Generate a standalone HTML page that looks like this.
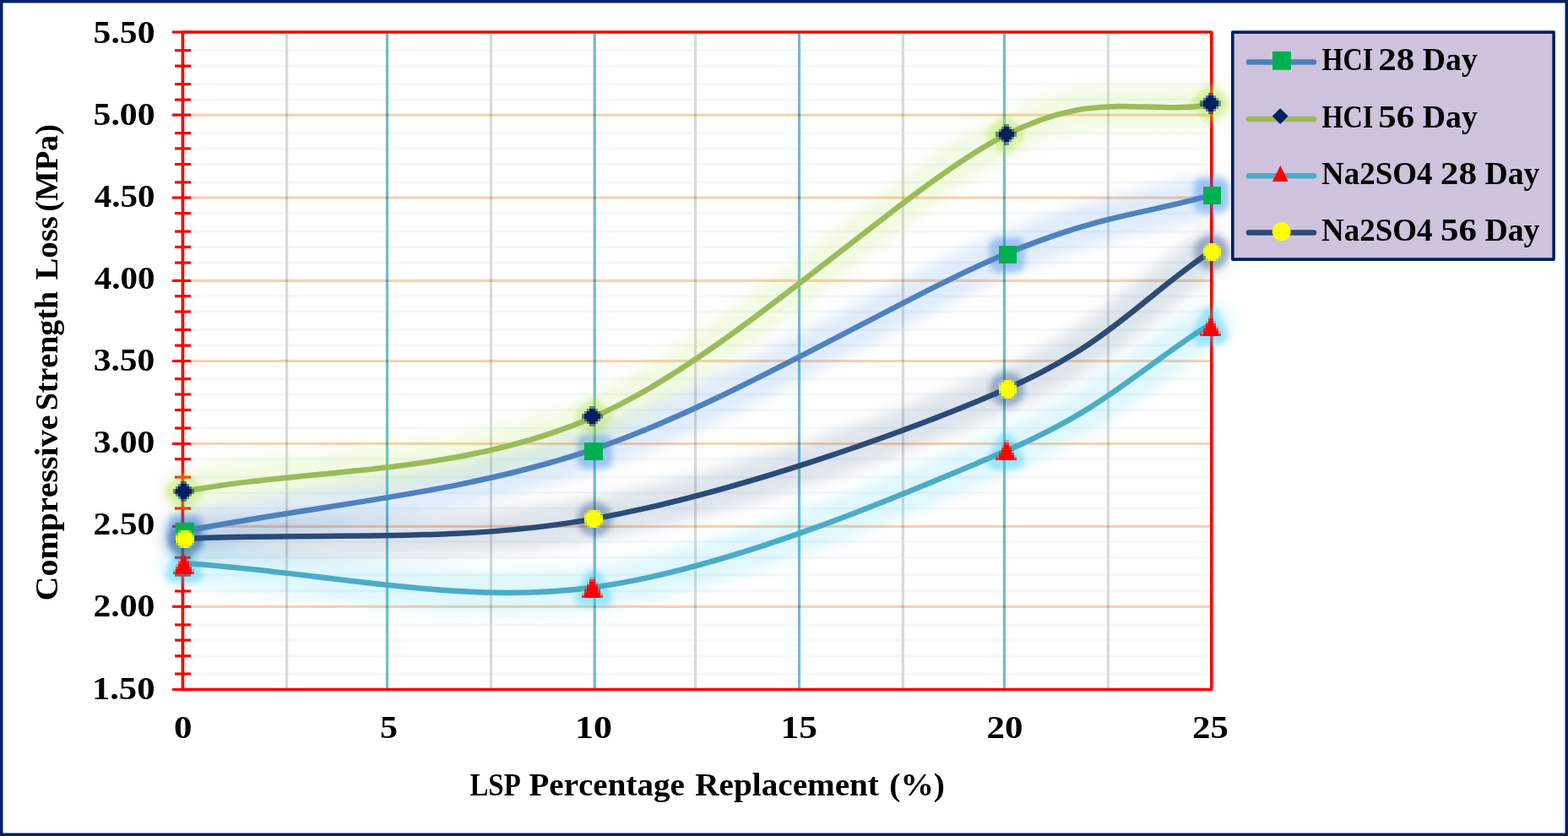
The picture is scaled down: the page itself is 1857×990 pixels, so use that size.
<!DOCTYPE html>
<html><head><meta charset="utf-8"><title>Compressive Strength Loss chart</title>
<style>
html,body{margin:0;padding:0;background:#fff;}
body{width:1857px;height:990px;overflow:hidden;}
svg{display:block;}
text{font-family:"Liberation Serif","DejaVu Serif",serif;font-weight:bold;fill:#000;font-kerning:none;}
</style></head><body>
<svg width="1857" height="990" viewBox="0 0 1857 990">
<defs>
<filter id="lglow" x="-10%" y="-20%" width="120%" height="140%"><feGaussianBlur stdDeviation="8"/></filter>
<filter id="mglow" x="-50%" y="-50%" width="200%" height="200%"><feGaussianBlur stdDeviation="3.5"/></filter>
</defs>
<rect x="0" y="0" width="1857" height="990" fill="#fff"/>

<g stroke="#F2F8FA" stroke-width="3" style="mix-blend-mode:multiply"><line x1="218" y1="59.7" x2="1433" y2="59.7"/><line x1="218" y1="78.1" x2="1433" y2="78.1"/><line x1="218" y1="99.7" x2="1433" y2="99.7"/><line x1="218" y1="118.1" x2="1433" y2="118.1"/><line x1="218" y1="157.7" x2="1433" y2="157.7"/><line x1="218" y1="175.9" x2="1433" y2="175.9"/><line x1="218" y1="194.6" x2="1433" y2="194.6"/><line x1="218" y1="215.9" x2="1433" y2="215.9"/><line x1="218" y1="252.6" x2="1433" y2="252.6"/><line x1="218" y1="274.1" x2="1433" y2="274.1"/><line x1="218" y1="292.5" x2="1433" y2="292.5"/><line x1="218" y1="311.1" x2="1433" y2="311.1"/><line x1="218" y1="350.7" x2="1433" y2="350.7"/><line x1="218" y1="369.1" x2="1433" y2="369.1"/><line x1="218" y1="390.5" x2="1433" y2="390.5"/><line x1="218" y1="409.1" x2="1433" y2="409.1"/><line x1="218" y1="448.7" x2="1433" y2="448.7"/><line x1="218" y1="467.0" x2="1433" y2="467.0"/><line x1="218" y1="485.5" x2="1433" y2="485.5"/><line x1="218" y1="507.0" x2="1433" y2="507.0"/><line x1="218" y1="543.7" x2="1433" y2="543.7"/><line x1="218" y1="565.1" x2="1433" y2="565.1"/><line x1="218" y1="583.5" x2="1433" y2="583.5"/><line x1="218" y1="602.0" x2="1433" y2="602.0"/><line x1="218" y1="641.5" x2="1433" y2="641.5"/><line x1="218" y1="660.3" x2="1433" y2="660.3"/><line x1="218" y1="681.1" x2="1433" y2="681.1"/><line x1="218" y1="700.0" x2="1433" y2="700.0"/><line x1="218" y1="739.9" x2="1433" y2="739.9"/><line x1="218" y1="758.1" x2="1433" y2="758.1"/><line x1="218" y1="776.8" x2="1433" y2="776.8"/><line x1="218" y1="798.0" x2="1433" y2="798.0"/></g>
<g stroke-width="3.2"><line x1="339.6" y1="40" x2="339.6" y2="815" stroke="#D9D9D9"/><line x1="458.5" y1="40" x2="458.5" y2="815" stroke="#6DBDD1"/><line x1="581.5" y1="40" x2="581.5" y2="815" stroke="#D9D9D9"/><line x1="704.2" y1="40" x2="704.2" y2="815" stroke="#6DBDD1"/><line x1="823.6" y1="40" x2="823.6" y2="815" stroke="#D9D9D9"/><line x1="946.5" y1="40" x2="946.5" y2="815" stroke="#6DBDD1"/><line x1="1069.5" y1="40" x2="1069.5" y2="815" stroke="#D9D9D9"/><line x1="1189.4" y1="40" x2="1189.4" y2="815" stroke="#6DBDD1"/><line x1="1312.5" y1="40" x2="1312.5" y2="815" stroke="#D9D9D9"/></g>
<g stroke="#FBD0AE" stroke-width="3.2" style="mix-blend-mode:multiply"><line x1="218" y1="136.1" x2="1433" y2="136.1"/><line x1="218" y1="234.1" x2="1433" y2="234.1"/><line x1="218" y1="332.4" x2="1433" y2="332.4"/><line x1="218" y1="427.5" x2="1433" y2="427.5"/><line x1="218" y1="525.5" x2="1433" y2="525.5"/><line x1="218" y1="623.3" x2="1433" y2="623.3"/><line x1="218" y1="718.3" x2="1433" y2="718.3"/></g>
<path d="M216.4,38.0 H1434.8 V816.5 H216.4 Z" fill="none" stroke="#FF0000" stroke-width="3.6" stroke-linejoin="round"/>
<g stroke="#FF0000" stroke-width="3.2"><line x1="204" y1="38.0" x2="226" y2="38.0"/><line x1="207" y1="59.7" x2="226" y2="59.7"/><line x1="207" y1="78.1" x2="226" y2="78.1"/><line x1="207" y1="99.7" x2="226" y2="99.7"/><line x1="207" y1="118.1" x2="226" y2="118.1"/><line x1="204" y1="136.1" x2="226" y2="136.1"/><line x1="207" y1="157.7" x2="226" y2="157.7"/><line x1="207" y1="175.9" x2="226" y2="175.9"/><line x1="207" y1="194.6" x2="226" y2="194.6"/><line x1="207" y1="215.9" x2="226" y2="215.9"/><line x1="204" y1="234.1" x2="226" y2="234.1"/><line x1="207" y1="252.6" x2="226" y2="252.6"/><line x1="207" y1="274.1" x2="226" y2="274.1"/><line x1="207" y1="292.5" x2="226" y2="292.5"/><line x1="207" y1="311.1" x2="226" y2="311.1"/><line x1="204" y1="332.4" x2="226" y2="332.4"/><line x1="207" y1="350.7" x2="226" y2="350.7"/><line x1="207" y1="369.1" x2="226" y2="369.1"/><line x1="207" y1="390.5" x2="226" y2="390.5"/><line x1="207" y1="409.1" x2="226" y2="409.1"/><line x1="204" y1="427.5" x2="226" y2="427.5"/><line x1="207" y1="448.7" x2="226" y2="448.7"/><line x1="207" y1="467.0" x2="226" y2="467.0"/><line x1="207" y1="485.5" x2="226" y2="485.5"/><line x1="207" y1="507.0" x2="226" y2="507.0"/><line x1="204" y1="525.5" x2="226" y2="525.5"/><line x1="207" y1="543.7" x2="226" y2="543.7"/><line x1="207" y1="565.1" x2="226" y2="565.1"/><line x1="207" y1="583.5" x2="226" y2="583.5"/><line x1="207" y1="602.0" x2="226" y2="602.0"/><line x1="204" y1="623.3" x2="226" y2="623.3"/><line x1="207" y1="641.5" x2="226" y2="641.5"/><line x1="207" y1="660.3" x2="226" y2="660.3"/><line x1="207" y1="681.1" x2="226" y2="681.1"/><line x1="207" y1="700.0" x2="226" y2="700.0"/><line x1="204" y1="718.3" x2="226" y2="718.3"/><line x1="207" y1="739.9" x2="226" y2="739.9"/><line x1="207" y1="758.1" x2="226" y2="758.1"/><line x1="207" y1="776.8" x2="226" y2="776.8"/><line x1="207" y1="798.0" x2="226" y2="798.0"/><line x1="204" y1="816.5" x2="226" y2="816.5"/></g>
<path d="M217.0,629.5 C379.2,597.0 541.2,586.7 703.5,531.9 C865.8,477.1 1068.8,351.0 1190.5,300.9 C1307.6,252.7 1352.8,254.4 1434.0,231.2" fill="none" stroke="#267DE6" stroke-width="50" stroke-linecap="round" stroke-linejoin="round" opacity="0.14" filter="url(#lglow)"/><g opacity="0.36" filter="url(#mglow)"><rect x="208.8" y="619.0" width="21.3" height="21.3" fill="#267DE6" stroke="#267DE6" stroke-width="20" stroke-linejoin="round"/><rect x="693.6" y="524.0" width="21.3" height="21.3" fill="#267DE6" stroke="#267DE6" stroke-width="20" stroke-linejoin="round"/><rect x="1181.8" y="291.1" width="21.3" height="21.3" fill="#267DE6" stroke="#267DE6" stroke-width="20" stroke-linejoin="round"/><rect x="1423.9" y="220.4" width="21.3" height="21.3" fill="#267DE6" stroke="#267DE6" stroke-width="20" stroke-linejoin="round"/></g><path d="M217.0,582.0 C379.2,552.6 541.2,564.0 703.5,493.7 C865.8,423.4 1068.8,221.8 1190.5,160.2 C1300.3,104.7 1352.8,136.3 1434.0,124.3" fill="none" stroke="#A8E034" stroke-width="50" stroke-linecap="round" stroke-linejoin="round" opacity="0.14" filter="url(#lglow)"/><g opacity="0.36" filter="url(#mglow)"><polygon points="217.8,570.2 229.8,582.2 217.8,594.2 205.8,582.2" fill="#A8E034" stroke="#A8E034" stroke-width="20" stroke-linejoin="round"/><polygon points="702.7,481.8 714.7,493.8 702.7,505.8 690.7,493.8" fill="#A8E034" stroke="#A8E034" stroke-width="20" stroke-linejoin="round"/><polygon points="1190.6,147.6 1202.6,159.6 1190.6,171.6 1178.6,159.6" fill="#A8E034" stroke="#A8E034" stroke-width="20" stroke-linejoin="round"/><polygon points="1433.1,110.7 1445.1,122.7 1433.1,134.7 1421.1,122.7" fill="#A8E034" stroke="#A8E034" stroke-width="20" stroke-linejoin="round"/></g><path d="M217.0,667.0 C379.2,676.5 541.2,717.6 703.5,695.5 C865.8,673.4 1068.8,586.4 1190.5,534.4 C1312.2,482.4 1352.8,433.8 1434.0,383.5" fill="none" stroke="#1DC7F4" stroke-width="50" stroke-linecap="round" stroke-linejoin="round" opacity="0.14" filter="url(#lglow)"/><g opacity="0.36" filter="url(#mglow)"><polygon points="217.8,657.2 230.1,680.8 205.6,680.8" fill="#1DC7F4" stroke="#1DC7F4" stroke-width="20" stroke-linejoin="round"/><polygon points="702.9,684.5 715.1,708.0 690.6,708.0" fill="#1DC7F4" stroke="#1DC7F4" stroke-width="20" stroke-linejoin="round"/><polygon points="1191.3,522.8 1203.5,546.2 1179.0,546.2" fill="#1DC7F4" stroke="#1DC7F4" stroke-width="20" stroke-linejoin="round"/><polygon points="1433.0,374.4 1445.2,397.9 1420.8,397.9" fill="#1DC7F4" stroke="#1DC7F4" stroke-width="20" stroke-linejoin="round"/></g><path d="M217.0,638.0 C379.2,630.1 541.2,643.9 703.5,614.4 C865.8,584.9 1068.8,514.0 1190.5,461.2 C1312.2,408.4 1352.8,352.3 1434.0,297.8" fill="none" stroke="#1F497D" stroke-width="50" stroke-linecap="round" stroke-linejoin="round" opacity="0.14" filter="url(#lglow)"/><g opacity="0.36" filter="url(#mglow)"><circle cx="219.5" cy="638.9" r="10.7" fill="#1F497D" stroke="#1F497D" stroke-width="20" stroke-linejoin="round"/><circle cx="704.3" cy="614.6" r="10.7" fill="#1F497D" stroke="#1F497D" stroke-width="20" stroke-linejoin="round"/><circle cx="1192.7" cy="460.9" r="10.7" fill="#1F497D" stroke="#1F497D" stroke-width="20" stroke-linejoin="round"/><circle cx="1434.7" cy="298.6" r="10.7" fill="#1F497D" stroke="#1F497D" stroke-width="20" stroke-linejoin="round"/></g>
<path d="M217.0,629.5 C379.2,597.0 541.2,586.7 703.5,531.9 C865.8,477.1 1068.8,351.0 1190.5,300.9 C1307.6,252.7 1352.8,254.4 1434.0,231.2" fill="none" stroke="#4F81BD" stroke-width="6.5" stroke-linecap="round" stroke-linejoin="round"/>
<path d="M217.0,582.0 C379.2,552.6 541.2,564.0 703.5,493.7 C865.8,423.4 1068.8,221.8 1190.5,160.2 C1300.3,104.7 1352.8,136.3 1434.0,124.3" fill="none" stroke="#9BBB59" stroke-width="6.5" stroke-linecap="round" stroke-linejoin="round"/>
<path d="M217.0,667.0 C379.2,676.5 541.2,717.6 703.5,695.5 C865.8,673.4 1068.8,586.4 1190.5,534.4 C1312.2,482.4 1352.8,433.8 1434.0,383.5" fill="none" stroke="#4BACC6" stroke-width="6.5" stroke-linecap="round" stroke-linejoin="round"/>
<path d="M217.0,638.0 C379.2,630.1 541.2,643.9 703.5,614.4 C865.8,584.9 1068.8,514.0 1190.5,461.2 C1312.2,408.4 1352.8,352.3 1434.0,297.8" fill="none" stroke="#2B4B77" stroke-width="6.5" stroke-linecap="round" stroke-linejoin="round"/>
<g shape-rendering="crispEdges"><path d="M208.32,618.83h3.06v3.06h-3.06zM211.38,618.83h3.06v3.06h-3.06zM214.44,618.83h3.06v3.06h-3.06zM217.51,618.83h3.06v3.06h-3.06zM220.57,618.83h3.06v3.06h-3.06zM223.64,618.83h3.06v3.06h-3.06zM226.70,618.83h3.06v3.06h-3.06zM208.32,621.89h3.06v3.06h-3.06zM211.38,621.89h3.06v3.06h-3.06zM214.44,621.89h3.06v3.06h-3.06zM217.51,621.89h3.06v3.06h-3.06zM220.57,621.89h3.06v3.06h-3.06zM223.64,621.89h3.06v3.06h-3.06zM226.70,621.89h3.06v3.06h-3.06zM208.32,624.95h3.06v3.06h-3.06zM211.38,624.95h3.06v3.06h-3.06zM214.44,624.95h3.06v3.06h-3.06zM217.51,624.95h3.06v3.06h-3.06zM220.57,624.95h3.06v3.06h-3.06zM223.64,624.95h3.06v3.06h-3.06zM226.70,624.95h3.06v3.06h-3.06zM208.32,628.02h3.06v3.06h-3.06zM211.38,628.02h3.06v3.06h-3.06zM214.44,628.02h3.06v3.06h-3.06zM217.51,628.02h3.06v3.06h-3.06zM220.57,628.02h3.06v3.06h-3.06zM223.64,628.02h3.06v3.06h-3.06zM226.70,628.02h3.06v3.06h-3.06zM208.32,631.08h3.06v3.06h-3.06zM211.38,631.08h3.06v3.06h-3.06zM214.44,631.08h3.06v3.06h-3.06zM217.51,631.08h3.06v3.06h-3.06zM220.57,631.08h3.06v3.06h-3.06zM223.64,631.08h3.06v3.06h-3.06zM226.70,631.08h3.06v3.06h-3.06zM208.32,634.14h3.06v3.06h-3.06zM211.38,634.14h3.06v3.06h-3.06zM214.44,634.14h3.06v3.06h-3.06zM217.51,634.14h3.06v3.06h-3.06zM220.57,634.14h3.06v3.06h-3.06zM223.64,634.14h3.06v3.06h-3.06zM226.70,634.14h3.06v3.06h-3.06zM208.32,637.21h3.06v3.06h-3.06zM211.38,637.21h3.06v3.06h-3.06zM214.44,637.21h3.06v3.06h-3.06zM217.51,637.21h3.06v3.06h-3.06zM220.57,637.21h3.06v3.06h-3.06zM223.64,637.21h3.06v3.06h-3.06zM226.70,637.21h3.06v3.06h-3.06z" fill="#00B050"/></g><g shape-rendering="crispEdges"><path d="M692.35,523.86h3.06v3.06h-3.06zM695.41,523.86h3.06v3.06h-3.06zM698.48,523.86h3.06v3.06h-3.06zM701.54,523.86h3.06v3.06h-3.06zM704.61,523.86h3.06v3.06h-3.06zM707.67,523.86h3.06v3.06h-3.06zM710.73,523.86h3.06v3.06h-3.06zM692.35,526.92h3.06v3.06h-3.06zM695.41,526.92h3.06v3.06h-3.06zM698.48,526.92h3.06v3.06h-3.06zM701.54,526.92h3.06v3.06h-3.06zM704.61,526.92h3.06v3.06h-3.06zM707.67,526.92h3.06v3.06h-3.06zM710.73,526.92h3.06v3.06h-3.06zM692.35,529.99h3.06v3.06h-3.06zM695.41,529.99h3.06v3.06h-3.06zM698.48,529.99h3.06v3.06h-3.06zM701.54,529.99h3.06v3.06h-3.06zM704.61,529.99h3.06v3.06h-3.06zM707.67,529.99h3.06v3.06h-3.06zM710.73,529.99h3.06v3.06h-3.06zM692.35,533.05h3.06v3.06h-3.06zM695.41,533.05h3.06v3.06h-3.06zM698.48,533.05h3.06v3.06h-3.06zM701.54,533.05h3.06v3.06h-3.06zM704.61,533.05h3.06v3.06h-3.06zM707.67,533.05h3.06v3.06h-3.06zM710.73,533.05h3.06v3.06h-3.06zM692.35,536.11h3.06v3.06h-3.06zM695.41,536.11h3.06v3.06h-3.06zM698.48,536.11h3.06v3.06h-3.06zM701.54,536.11h3.06v3.06h-3.06zM704.61,536.11h3.06v3.06h-3.06zM707.67,536.11h3.06v3.06h-3.06zM710.73,536.11h3.06v3.06h-3.06zM692.35,539.18h3.06v3.06h-3.06zM695.41,539.18h3.06v3.06h-3.06zM698.48,539.18h3.06v3.06h-3.06zM701.54,539.18h3.06v3.06h-3.06zM704.61,539.18h3.06v3.06h-3.06zM707.67,539.18h3.06v3.06h-3.06zM710.73,539.18h3.06v3.06h-3.06zM692.35,542.24h3.06v3.06h-3.06zM695.41,542.24h3.06v3.06h-3.06zM698.48,542.24h3.06v3.06h-3.06zM701.54,542.24h3.06v3.06h-3.06zM704.61,542.24h3.06v3.06h-3.06zM707.67,542.24h3.06v3.06h-3.06zM710.73,542.24h3.06v3.06h-3.06z" fill="#00B050"/></g><g shape-rendering="crispEdges"><path d="M1182.51,291.03h3.06v3.06h-3.06zM1185.57,291.03h3.06v3.06h-3.06zM1188.64,291.03h3.06v3.06h-3.06zM1191.70,291.03h3.06v3.06h-3.06zM1194.76,291.03h3.06v3.06h-3.06zM1197.83,291.03h3.06v3.06h-3.06zM1200.89,291.03h3.06v3.06h-3.06zM1182.51,294.10h3.06v3.06h-3.06zM1185.57,294.10h3.06v3.06h-3.06zM1188.64,294.10h3.06v3.06h-3.06zM1191.70,294.10h3.06v3.06h-3.06zM1194.76,294.10h3.06v3.06h-3.06zM1197.83,294.10h3.06v3.06h-3.06zM1200.89,294.10h3.06v3.06h-3.06zM1182.51,297.16h3.06v3.06h-3.06zM1185.57,297.16h3.06v3.06h-3.06zM1188.64,297.16h3.06v3.06h-3.06zM1191.70,297.16h3.06v3.06h-3.06zM1194.76,297.16h3.06v3.06h-3.06zM1197.83,297.16h3.06v3.06h-3.06zM1200.89,297.16h3.06v3.06h-3.06zM1182.51,300.22h3.06v3.06h-3.06zM1185.57,300.22h3.06v3.06h-3.06zM1188.64,300.22h3.06v3.06h-3.06zM1191.70,300.22h3.06v3.06h-3.06zM1194.76,300.22h3.06v3.06h-3.06zM1197.83,300.22h3.06v3.06h-3.06zM1200.89,300.22h3.06v3.06h-3.06zM1182.51,303.29h3.06v3.06h-3.06zM1185.57,303.29h3.06v3.06h-3.06zM1188.64,303.29h3.06v3.06h-3.06zM1191.70,303.29h3.06v3.06h-3.06zM1194.76,303.29h3.06v3.06h-3.06zM1197.83,303.29h3.06v3.06h-3.06zM1200.89,303.29h3.06v3.06h-3.06zM1182.51,306.35h3.06v3.06h-3.06zM1185.57,306.35h3.06v3.06h-3.06zM1188.64,306.35h3.06v3.06h-3.06zM1191.70,306.35h3.06v3.06h-3.06zM1194.76,306.35h3.06v3.06h-3.06zM1197.83,306.35h3.06v3.06h-3.06zM1200.89,306.35h3.06v3.06h-3.06zM1182.51,309.41h3.06v3.06h-3.06zM1185.57,309.41h3.06v3.06h-3.06zM1188.64,309.41h3.06v3.06h-3.06zM1191.70,309.41h3.06v3.06h-3.06zM1194.76,309.41h3.06v3.06h-3.06zM1197.83,309.41h3.06v3.06h-3.06zM1200.89,309.41h3.06v3.06h-3.06z" fill="#00B050"/></g><g shape-rendering="crispEdges"><path d="M1424.53,220.57h3.06v3.06h-3.06zM1427.59,220.57h3.06v3.06h-3.06zM1430.65,220.57h3.06v3.06h-3.06zM1433.72,220.57h3.06v3.06h-3.06zM1436.78,220.57h3.06v3.06h-3.06zM1439.85,220.57h3.06v3.06h-3.06zM1442.91,220.57h3.06v3.06h-3.06zM1424.53,223.64h3.06v3.06h-3.06zM1427.59,223.64h3.06v3.06h-3.06zM1430.65,223.64h3.06v3.06h-3.06zM1433.72,223.64h3.06v3.06h-3.06zM1436.78,223.64h3.06v3.06h-3.06zM1439.85,223.64h3.06v3.06h-3.06zM1442.91,223.64h3.06v3.06h-3.06zM1424.53,226.70h3.06v3.06h-3.06zM1427.59,226.70h3.06v3.06h-3.06zM1430.65,226.70h3.06v3.06h-3.06zM1433.72,226.70h3.06v3.06h-3.06zM1436.78,226.70h3.06v3.06h-3.06zM1439.85,226.70h3.06v3.06h-3.06zM1442.91,226.70h3.06v3.06h-3.06zM1424.53,229.76h3.06v3.06h-3.06zM1427.59,229.76h3.06v3.06h-3.06zM1430.65,229.76h3.06v3.06h-3.06zM1433.72,229.76h3.06v3.06h-3.06zM1436.78,229.76h3.06v3.06h-3.06zM1439.85,229.76h3.06v3.06h-3.06zM1442.91,229.76h3.06v3.06h-3.06zM1424.53,232.83h3.06v3.06h-3.06zM1427.59,232.83h3.06v3.06h-3.06zM1430.65,232.83h3.06v3.06h-3.06zM1433.72,232.83h3.06v3.06h-3.06zM1436.78,232.83h3.06v3.06h-3.06zM1439.85,232.83h3.06v3.06h-3.06zM1442.91,232.83h3.06v3.06h-3.06zM1424.53,235.89h3.06v3.06h-3.06zM1427.59,235.89h3.06v3.06h-3.06zM1430.65,235.89h3.06v3.06h-3.06zM1433.72,235.89h3.06v3.06h-3.06zM1436.78,235.89h3.06v3.06h-3.06zM1439.85,235.89h3.06v3.06h-3.06zM1442.91,235.89h3.06v3.06h-3.06zM1424.53,238.95h3.06v3.06h-3.06zM1427.59,238.95h3.06v3.06h-3.06zM1430.65,238.95h3.06v3.06h-3.06zM1433.72,238.95h3.06v3.06h-3.06zM1436.78,238.95h3.06v3.06h-3.06zM1439.85,238.95h3.06v3.06h-3.06zM1442.91,238.95h3.06v3.06h-3.06z" fill="#00B050"/></g>
<g shape-rendering="crispEdges"><path d="M214.44,572.87h3.06v3.06h-3.06zM217.51,572.87h3.06v3.06h-3.06zM211.38,575.94h3.06v3.06h-3.06zM214.44,575.94h3.06v3.06h-3.06zM217.51,575.94h3.06v3.06h-3.06zM220.57,575.94h3.06v3.06h-3.06zM208.32,579.00h3.06v3.06h-3.06zM211.38,579.00h3.06v3.06h-3.06zM214.44,579.00h3.06v3.06h-3.06zM217.51,579.00h3.06v3.06h-3.06zM220.57,579.00h3.06v3.06h-3.06zM223.64,579.00h3.06v3.06h-3.06zM208.32,582.06h3.06v3.06h-3.06zM211.38,582.06h3.06v3.06h-3.06zM214.44,582.06h3.06v3.06h-3.06zM217.51,582.06h3.06v3.06h-3.06zM220.57,582.06h3.06v3.06h-3.06zM223.64,582.06h3.06v3.06h-3.06zM211.38,585.13h3.06v3.06h-3.06zM214.44,585.13h3.06v3.06h-3.06zM217.51,585.13h3.06v3.06h-3.06zM220.57,585.13h3.06v3.06h-3.06zM214.44,588.19h3.06v3.06h-3.06zM217.51,588.19h3.06v3.06h-3.06z" fill="#002060"/><rect x="214.44" y="569.81" width="3.06" height="3.06" fill="#002060" fill-opacity="0.53"/><rect x="217.51" y="569.81" width="3.06" height="3.06" fill="#002060" fill-opacity="0.55"/><rect x="211.38" y="572.87" width="3.06" height="3.06" fill="#002060" fill-opacity="0.53"/><rect x="220.57" y="572.87" width="3.06" height="3.06" fill="#002060" fill-opacity="0.55"/><rect x="208.32" y="575.94" width="3.06" height="3.06" fill="#002060" fill-opacity="0.53"/><rect x="223.64" y="575.94" width="3.06" height="3.06" fill="#002060" fill-opacity="0.55"/><rect x="205.25" y="579.00" width="3.06" height="3.06" fill="#002060" fill-opacity="0.53"/><rect x="226.70" y="579.00" width="3.06" height="3.06" fill="#002060" fill-opacity="0.55"/><rect x="205.25" y="582.06" width="3.06" height="3.06" fill="#002060" fill-opacity="0.44"/><rect x="226.70" y="582.06" width="3.06" height="3.06" fill="#002060" fill-opacity="0.45"/><rect x="208.32" y="585.13" width="3.06" height="3.06" fill="#002060" fill-opacity="0.45"/><rect x="223.64" y="585.13" width="3.06" height="3.06" fill="#002060" fill-opacity="0.47"/><rect x="211.38" y="588.19" width="3.06" height="3.06" fill="#002060" fill-opacity="0.45"/><rect x="220.57" y="588.19" width="3.06" height="3.06" fill="#002060" fill-opacity="0.47"/><rect x="214.44" y="591.26" width="3.06" height="3.06" fill="#002060" fill-opacity="0.45"/><rect x="217.51" y="591.26" width="3.06" height="3.06" fill="#002060" fill-opacity="0.47"/></g><g shape-rendering="crispEdges"><path d="M698.48,484.03h3.06v3.06h-3.06zM701.54,484.03h3.06v3.06h-3.06zM695.41,487.10h3.06v3.06h-3.06zM698.48,487.10h3.06v3.06h-3.06zM701.54,487.10h3.06v3.06h-3.06zM704.61,487.10h3.06v3.06h-3.06zM692.35,490.16h3.06v3.06h-3.06zM695.41,490.16h3.06v3.06h-3.06zM698.48,490.16h3.06v3.06h-3.06zM701.54,490.16h3.06v3.06h-3.06zM704.61,490.16h3.06v3.06h-3.06zM707.67,490.16h3.06v3.06h-3.06zM692.35,493.22h3.06v3.06h-3.06zM695.41,493.22h3.06v3.06h-3.06zM698.48,493.22h3.06v3.06h-3.06zM701.54,493.22h3.06v3.06h-3.06zM704.61,493.22h3.06v3.06h-3.06zM707.67,493.22h3.06v3.06h-3.06zM695.41,496.29h3.06v3.06h-3.06zM698.48,496.29h3.06v3.06h-3.06zM701.54,496.29h3.06v3.06h-3.06zM704.61,496.29h3.06v3.06h-3.06zM698.48,499.35h3.06v3.06h-3.06zM701.54,499.35h3.06v3.06h-3.06z" fill="#002060"/><rect x="698.48" y="480.97" width="3.06" height="3.06" fill="#002060" fill-opacity="0.53"/><rect x="701.54" y="480.97" width="3.06" height="3.06" fill="#002060" fill-opacity="0.44"/><rect x="695.41" y="484.03" width="3.06" height="3.06" fill="#002060" fill-opacity="0.52"/><rect x="704.61" y="484.03" width="3.06" height="3.06" fill="#002060" fill-opacity="0.44"/><rect x="692.35" y="487.10" width="3.06" height="3.06" fill="#002060" fill-opacity="0.52"/><rect x="707.67" y="487.10" width="3.06" height="3.06" fill="#002060" fill-opacity="0.44"/><rect x="689.29" y="490.16" width="3.06" height="3.06" fill="#002060" fill-opacity="0.52"/><rect x="710.73" y="490.16" width="3.06" height="3.06" fill="#002060" fill-opacity="0.44"/><rect x="689.29" y="493.22" width="3.06" height="3.06" fill="#002060" fill-opacity="0.56"/><rect x="710.73" y="493.22" width="3.06" height="3.06" fill="#002060" fill-opacity="0.47"/><rect x="692.35" y="496.29" width="3.06" height="3.06" fill="#002060" fill-opacity="0.56"/><rect x="707.67" y="496.29" width="3.06" height="3.06" fill="#002060" fill-opacity="0.47"/><rect x="695.41" y="499.35" width="3.06" height="3.06" fill="#002060" fill-opacity="0.56"/><rect x="704.61" y="499.35" width="3.06" height="3.06" fill="#002060" fill-opacity="0.45"/><rect x="698.48" y="502.41" width="3.06" height="3.06" fill="#002060" fill-opacity="0.56"/><rect x="701.54" y="502.41" width="3.06" height="3.06" fill="#002060" fill-opacity="0.45"/></g><g shape-rendering="crispEdges"><path d="M1188.64,150.11h3.06v3.06h-3.06zM1191.70,150.11h3.06v3.06h-3.06zM1185.57,153.17h3.06v3.06h-3.06zM1188.64,153.17h3.06v3.06h-3.06zM1191.70,153.17h3.06v3.06h-3.06zM1194.76,153.17h3.06v3.06h-3.06zM1182.51,156.24h3.06v3.06h-3.06zM1185.57,156.24h3.06v3.06h-3.06zM1188.64,156.24h3.06v3.06h-3.06zM1191.70,156.24h3.06v3.06h-3.06zM1194.76,156.24h3.06v3.06h-3.06zM1197.83,156.24h3.06v3.06h-3.06zM1182.51,159.30h3.06v3.06h-3.06zM1185.57,159.30h3.06v3.06h-3.06zM1188.64,159.30h3.06v3.06h-3.06zM1191.70,159.30h3.06v3.06h-3.06zM1194.76,159.30h3.06v3.06h-3.06zM1197.83,159.30h3.06v3.06h-3.06zM1185.57,162.37h3.06v3.06h-3.06zM1188.64,162.37h3.06v3.06h-3.06zM1191.70,162.37h3.06v3.06h-3.06zM1194.76,162.37h3.06v3.06h-3.06zM1188.64,165.43h3.06v3.06h-3.06zM1191.70,165.43h3.06v3.06h-3.06z" fill="#002060"/><rect x="1188.64" y="147.05" width="3.06" height="3.06" fill="#002060" fill-opacity="0.53"/><rect x="1191.70" y="147.05" width="3.06" height="3.06" fill="#002060" fill-opacity="0.45"/><rect x="1185.57" y="150.11" width="3.06" height="3.06" fill="#002060" fill-opacity="0.53"/><rect x="1194.76" y="150.11" width="3.06" height="3.06" fill="#002060" fill-opacity="0.45"/><rect x="1182.51" y="153.17" width="3.06" height="3.06" fill="#002060" fill-opacity="0.53"/><rect x="1197.83" y="153.17" width="3.06" height="3.06" fill="#002060" fill-opacity="0.47"/><rect x="1179.45" y="156.24" width="3.06" height="3.06" fill="#002060" fill-opacity="0.53"/><rect x="1200.89" y="156.24" width="3.06" height="3.06" fill="#002060" fill-opacity="0.47"/><rect x="1179.45" y="159.30" width="3.06" height="3.06" fill="#002060" fill-opacity="0.53"/><rect x="1200.89" y="159.30" width="3.06" height="3.06" fill="#002060" fill-opacity="0.47"/><rect x="1182.51" y="162.37" width="3.06" height="3.06" fill="#002060" fill-opacity="0.53"/><rect x="1197.83" y="162.37" width="3.06" height="3.06" fill="#002060" fill-opacity="0.47"/><rect x="1185.57" y="165.43" width="3.06" height="3.06" fill="#002060" fill-opacity="0.53"/><rect x="1194.76" y="165.43" width="3.06" height="3.06" fill="#002060" fill-opacity="0.45"/><rect x="1188.64" y="168.49" width="3.06" height="3.06" fill="#002060" fill-opacity="0.53"/><rect x="1191.70" y="168.49" width="3.06" height="3.06" fill="#002060" fill-opacity="0.45"/></g><g shape-rendering="crispEdges"><path d="M1430.65,113.35h3.06v3.06h-3.06zM1433.72,113.35h3.06v3.06h-3.06zM1427.59,116.41h3.06v3.06h-3.06zM1430.65,116.41h3.06v3.06h-3.06zM1433.72,116.41h3.06v3.06h-3.06zM1436.78,116.41h3.06v3.06h-3.06zM1424.53,119.48h3.06v3.06h-3.06zM1427.59,119.48h3.06v3.06h-3.06zM1430.65,119.48h3.06v3.06h-3.06zM1433.72,119.48h3.06v3.06h-3.06zM1436.78,119.48h3.06v3.06h-3.06zM1439.85,119.48h3.06v3.06h-3.06zM1424.53,122.54h3.06v3.06h-3.06zM1427.59,122.54h3.06v3.06h-3.06zM1430.65,122.54h3.06v3.06h-3.06zM1433.72,122.54h3.06v3.06h-3.06zM1436.78,122.54h3.06v3.06h-3.06zM1439.85,122.54h3.06v3.06h-3.06zM1427.59,125.60h3.06v3.06h-3.06zM1430.65,125.60h3.06v3.06h-3.06zM1433.72,125.60h3.06v3.06h-3.06zM1436.78,125.60h3.06v3.06h-3.06zM1430.65,128.67h3.06v3.06h-3.06zM1433.72,128.67h3.06v3.06h-3.06z" fill="#002060"/><rect x="1430.65" y="110.29" width="3.06" height="3.06" fill="#002060" fill-opacity="0.56"/><rect x="1433.72" y="110.29" width="3.06" height="3.06" fill="#002060" fill-opacity="0.44"/><rect x="1427.59" y="113.35" width="3.06" height="3.06" fill="#002060" fill-opacity="0.56"/><rect x="1436.78" y="113.35" width="3.06" height="3.06" fill="#002060" fill-opacity="0.45"/><rect x="1424.53" y="116.41" width="3.06" height="3.06" fill="#002060" fill-opacity="0.56"/><rect x="1439.85" y="116.41" width="3.06" height="3.06" fill="#002060" fill-opacity="0.45"/><rect x="1421.46" y="119.48" width="3.06" height="3.06" fill="#002060" fill-opacity="0.56"/><rect x="1442.91" y="119.48" width="3.06" height="3.06" fill="#002060" fill-opacity="0.45"/><rect x="1421.46" y="122.54" width="3.06" height="3.06" fill="#002060" fill-opacity="0.56"/><rect x="1442.91" y="122.54" width="3.06" height="3.06" fill="#002060" fill-opacity="0.45"/><rect x="1424.53" y="125.60" width="3.06" height="3.06" fill="#002060" fill-opacity="0.56"/><rect x="1439.85" y="125.60" width="3.06" height="3.06" fill="#002060" fill-opacity="0.45"/><rect x="1427.59" y="128.67" width="3.06" height="3.06" fill="#002060" fill-opacity="0.56"/><rect x="1436.78" y="128.67" width="3.06" height="3.06" fill="#002060" fill-opacity="0.45"/><rect x="1430.65" y="131.73" width="3.06" height="3.06" fill="#002060" fill-opacity="0.56"/><rect x="1433.72" y="131.73" width="3.06" height="3.06" fill="#002060" fill-opacity="0.44"/></g>
<g shape-rendering="crispEdges"><path d="M214.44,661.72h3.06v3.06h-3.06zM217.51,661.72h3.06v3.06h-3.06zM214.44,664.78h3.06v3.06h-3.06zM217.51,664.78h3.06v3.06h-3.06zM211.38,667.84h3.06v3.06h-3.06zM214.44,667.84h3.06v3.06h-3.06zM217.51,667.84h3.06v3.06h-3.06zM220.57,667.84h3.06v3.06h-3.06zM211.38,670.91h3.06v3.06h-3.06zM214.44,670.91h3.06v3.06h-3.06zM217.51,670.91h3.06v3.06h-3.06zM220.57,670.91h3.06v3.06h-3.06zM208.32,673.97h3.06v3.06h-3.06zM211.38,673.97h3.06v3.06h-3.06zM214.44,673.97h3.06v3.06h-3.06zM217.51,673.97h3.06v3.06h-3.06zM220.57,673.97h3.06v3.06h-3.06zM223.64,673.97h3.06v3.06h-3.06zM208.32,677.03h3.06v3.06h-3.06zM211.38,677.03h3.06v3.06h-3.06zM214.44,677.03h3.06v3.06h-3.06zM217.51,677.03h3.06v3.06h-3.06zM220.57,677.03h3.06v3.06h-3.06zM223.64,677.03h3.06v3.06h-3.06z" fill="#FF0000"/><rect x="214.44" y="655.59" width="3.06" height="3.06" fill="#FF0000" fill-opacity="0.25"/><rect x="217.51" y="655.59" width="3.06" height="3.06" fill="#FF0000" fill-opacity="0.25"/><rect x="214.44" y="658.65" width="3.06" height="3.06" fill="#FF0000" fill-opacity="0.75"/><rect x="217.51" y="658.65" width="3.06" height="3.06" fill="#FF0000" fill-opacity="0.75"/><rect x="211.38" y="661.72" width="3.06" height="3.06" fill="#FF0000" fill-opacity="0.25"/><rect x="220.57" y="661.72" width="3.06" height="3.06" fill="#FF0000" fill-opacity="0.25"/><rect x="211.38" y="664.78" width="3.06" height="3.06" fill="#FF0000" fill-opacity="0.75"/><rect x="220.57" y="664.78" width="3.06" height="3.06" fill="#FF0000" fill-opacity="0.75"/><rect x="208.32" y="667.84" width="3.06" height="3.06" fill="#FF0000" fill-opacity="0.25"/><rect x="223.64" y="667.84" width="3.06" height="3.06" fill="#FF0000" fill-opacity="0.25"/><rect x="208.32" y="670.91" width="3.06" height="3.06" fill="#FF0000" fill-opacity="0.75"/><rect x="223.64" y="670.91" width="3.06" height="3.06" fill="#FF0000" fill-opacity="0.75"/><rect x="205.25" y="673.97" width="3.06" height="3.06" fill="#FF0000" fill-opacity="0.25"/><rect x="226.70" y="673.97" width="3.06" height="3.06" fill="#FF0000" fill-opacity="0.25"/><rect x="205.25" y="677.03" width="3.06" height="3.06" fill="#FF0000" fill-opacity="0.75"/><rect x="226.70" y="677.03" width="3.06" height="3.06" fill="#FF0000" fill-opacity="0.75"/></g><g shape-rendering="crispEdges"><path d="M698.48,689.29h3.06v3.06h-3.06zM701.54,689.29h3.06v3.06h-3.06zM698.48,692.35h3.06v3.06h-3.06zM701.54,692.35h3.06v3.06h-3.06zM695.41,695.41h3.06v3.06h-3.06zM698.48,695.41h3.06v3.06h-3.06zM701.54,695.41h3.06v3.06h-3.06zM704.61,695.41h3.06v3.06h-3.06zM695.41,698.48h3.06v3.06h-3.06zM698.48,698.48h3.06v3.06h-3.06zM701.54,698.48h3.06v3.06h-3.06zM704.61,698.48h3.06v3.06h-3.06zM692.35,701.54h3.06v3.06h-3.06zM695.41,701.54h3.06v3.06h-3.06zM698.48,701.54h3.06v3.06h-3.06zM701.54,701.54h3.06v3.06h-3.06zM704.61,701.54h3.06v3.06h-3.06zM707.67,701.54h3.06v3.06h-3.06zM692.35,704.61h3.06v3.06h-3.06zM695.41,704.61h3.06v3.06h-3.06zM698.48,704.61h3.06v3.06h-3.06zM701.54,704.61h3.06v3.06h-3.06zM704.61,704.61h3.06v3.06h-3.06zM707.67,704.61h3.06v3.06h-3.06z" fill="#FF0000"/><rect x="698.48" y="683.16" width="3.06" height="3.06" fill="#FF0000" fill-opacity="0.25"/><rect x="701.54" y="683.16" width="3.06" height="3.06" fill="#FF0000" fill-opacity="0.25"/><rect x="698.48" y="686.22" width="3.06" height="3.06" fill="#FF0000" fill-opacity="0.75"/><rect x="701.54" y="686.22" width="3.06" height="3.06" fill="#FF0000" fill-opacity="0.75"/><rect x="695.41" y="689.29" width="3.06" height="3.06" fill="#FF0000" fill-opacity="0.25"/><rect x="704.61" y="689.29" width="3.06" height="3.06" fill="#FF0000" fill-opacity="0.25"/><rect x="695.41" y="692.35" width="3.06" height="3.06" fill="#FF0000" fill-opacity="0.75"/><rect x="704.61" y="692.35" width="3.06" height="3.06" fill="#FF0000" fill-opacity="0.75"/><rect x="692.35" y="695.41" width="3.06" height="3.06" fill="#FF0000" fill-opacity="0.25"/><rect x="707.67" y="695.41" width="3.06" height="3.06" fill="#FF0000" fill-opacity="0.25"/><rect x="692.35" y="698.48" width="3.06" height="3.06" fill="#FF0000" fill-opacity="0.75"/><rect x="707.67" y="698.48" width="3.06" height="3.06" fill="#FF0000" fill-opacity="0.75"/><rect x="689.29" y="701.54" width="3.06" height="3.06" fill="#FF0000" fill-opacity="0.25"/><rect x="710.73" y="701.54" width="3.06" height="3.06" fill="#FF0000" fill-opacity="0.25"/><rect x="689.29" y="704.61" width="3.06" height="3.06" fill="#FF0000" fill-opacity="0.75"/><rect x="710.73" y="704.61" width="3.06" height="3.06" fill="#FF0000" fill-opacity="0.75"/></g><g shape-rendering="crispEdges"><path d="M1188.64,526.92h3.06v3.06h-3.06zM1191.70,526.92h3.06v3.06h-3.06zM1188.64,529.99h3.06v3.06h-3.06zM1191.70,529.99h3.06v3.06h-3.06zM1185.57,533.05h3.06v3.06h-3.06zM1188.64,533.05h3.06v3.06h-3.06zM1191.70,533.05h3.06v3.06h-3.06zM1194.76,533.05h3.06v3.06h-3.06zM1185.57,536.11h3.06v3.06h-3.06zM1188.64,536.11h3.06v3.06h-3.06zM1191.70,536.11h3.06v3.06h-3.06zM1194.76,536.11h3.06v3.06h-3.06zM1182.51,539.18h3.06v3.06h-3.06zM1185.57,539.18h3.06v3.06h-3.06zM1188.64,539.18h3.06v3.06h-3.06zM1191.70,539.18h3.06v3.06h-3.06zM1194.76,539.18h3.06v3.06h-3.06zM1197.83,539.18h3.06v3.06h-3.06zM1182.51,542.24h3.06v3.06h-3.06zM1185.57,542.24h3.06v3.06h-3.06zM1188.64,542.24h3.06v3.06h-3.06zM1191.70,542.24h3.06v3.06h-3.06zM1194.76,542.24h3.06v3.06h-3.06zM1197.83,542.24h3.06v3.06h-3.06z" fill="#FF0000"/><rect x="1188.64" y="520.79" width="3.06" height="3.06" fill="#FF0000" fill-opacity="0.25"/><rect x="1191.70" y="520.79" width="3.06" height="3.06" fill="#FF0000" fill-opacity="0.25"/><rect x="1188.64" y="523.86" width="3.06" height="3.06" fill="#FF0000" fill-opacity="0.75"/><rect x="1191.70" y="523.86" width="3.06" height="3.06" fill="#FF0000" fill-opacity="0.75"/><rect x="1185.57" y="526.92" width="3.06" height="3.06" fill="#FF0000" fill-opacity="0.25"/><rect x="1194.76" y="526.92" width="3.06" height="3.06" fill="#FF0000" fill-opacity="0.25"/><rect x="1185.57" y="529.99" width="3.06" height="3.06" fill="#FF0000" fill-opacity="0.75"/><rect x="1194.76" y="529.99" width="3.06" height="3.06" fill="#FF0000" fill-opacity="0.75"/><rect x="1182.51" y="533.05" width="3.06" height="3.06" fill="#FF0000" fill-opacity="0.25"/><rect x="1197.83" y="533.05" width="3.06" height="3.06" fill="#FF0000" fill-opacity="0.25"/><rect x="1182.51" y="536.11" width="3.06" height="3.06" fill="#FF0000" fill-opacity="0.75"/><rect x="1197.83" y="536.11" width="3.06" height="3.06" fill="#FF0000" fill-opacity="0.75"/><rect x="1179.45" y="539.18" width="3.06" height="3.06" fill="#FF0000" fill-opacity="0.25"/><rect x="1200.89" y="539.18" width="3.06" height="3.06" fill="#FF0000" fill-opacity="0.25"/><rect x="1179.45" y="542.24" width="3.06" height="3.06" fill="#FF0000" fill-opacity="0.75"/><rect x="1200.89" y="542.24" width="3.06" height="3.06" fill="#FF0000" fill-opacity="0.75"/></g><g shape-rendering="crispEdges"><path d="M1430.65,379.87h3.06v3.06h-3.06zM1433.72,379.87h3.06v3.06h-3.06zM1430.65,382.94h3.06v3.06h-3.06zM1433.72,382.94h3.06v3.06h-3.06zM1427.59,386.00h3.06v3.06h-3.06zM1430.65,386.00h3.06v3.06h-3.06zM1433.72,386.00h3.06v3.06h-3.06zM1436.78,386.00h3.06v3.06h-3.06zM1427.59,389.06h3.06v3.06h-3.06zM1430.65,389.06h3.06v3.06h-3.06zM1433.72,389.06h3.06v3.06h-3.06zM1436.78,389.06h3.06v3.06h-3.06zM1424.53,392.13h3.06v3.06h-3.06zM1427.59,392.13h3.06v3.06h-3.06zM1430.65,392.13h3.06v3.06h-3.06zM1433.72,392.13h3.06v3.06h-3.06zM1436.78,392.13h3.06v3.06h-3.06zM1439.85,392.13h3.06v3.06h-3.06zM1424.53,395.19h3.06v3.06h-3.06zM1427.59,395.19h3.06v3.06h-3.06zM1430.65,395.19h3.06v3.06h-3.06zM1433.72,395.19h3.06v3.06h-3.06zM1436.78,395.19h3.06v3.06h-3.06zM1439.85,395.19h3.06v3.06h-3.06z" fill="#FF0000"/><rect x="1430.65" y="373.75" width="3.06" height="3.06" fill="#FF0000" fill-opacity="0.25"/><rect x="1433.72" y="373.75" width="3.06" height="3.06" fill="#FF0000" fill-opacity="0.25"/><rect x="1430.65" y="376.81" width="3.06" height="3.06" fill="#FF0000" fill-opacity="0.75"/><rect x="1433.72" y="376.81" width="3.06" height="3.06" fill="#FF0000" fill-opacity="0.75"/><rect x="1427.59" y="379.87" width="3.06" height="3.06" fill="#FF0000" fill-opacity="0.25"/><rect x="1436.78" y="379.87" width="3.06" height="3.06" fill="#FF0000" fill-opacity="0.25"/><rect x="1427.59" y="382.94" width="3.06" height="3.06" fill="#FF0000" fill-opacity="0.75"/><rect x="1436.78" y="382.94" width="3.06" height="3.06" fill="#FF0000" fill-opacity="0.75"/><rect x="1424.53" y="386.00" width="3.06" height="3.06" fill="#FF0000" fill-opacity="0.25"/><rect x="1439.85" y="386.00" width="3.06" height="3.06" fill="#FF0000" fill-opacity="0.25"/><rect x="1424.53" y="389.06" width="3.06" height="3.06" fill="#FF0000" fill-opacity="0.75"/><rect x="1439.85" y="389.06" width="3.06" height="3.06" fill="#FF0000" fill-opacity="0.75"/><rect x="1421.46" y="392.13" width="3.06" height="3.06" fill="#FF0000" fill-opacity="0.25"/><rect x="1442.91" y="392.13" width="3.06" height="3.06" fill="#FF0000" fill-opacity="0.25"/><rect x="1421.46" y="395.19" width="3.06" height="3.06" fill="#FF0000" fill-opacity="0.75"/><rect x="1442.91" y="395.19" width="3.06" height="3.06" fill="#FF0000" fill-opacity="0.75"/></g>
<g shape-rendering="crispEdges"><path d="M217.51,628.02h3.06v3.06h-3.06zM211.38,631.08h3.06v3.06h-3.06zM214.44,631.08h3.06v3.06h-3.06zM217.51,631.08h3.06v3.06h-3.06zM220.57,631.08h3.06v3.06h-3.06zM223.64,631.08h3.06v3.06h-3.06zM211.38,634.14h3.06v3.06h-3.06zM214.44,634.14h3.06v3.06h-3.06zM217.51,634.14h3.06v3.06h-3.06zM220.57,634.14h3.06v3.06h-3.06zM223.64,634.14h3.06v3.06h-3.06zM208.32,637.21h3.06v3.06h-3.06zM211.38,637.21h3.06v3.06h-3.06zM214.44,637.21h3.06v3.06h-3.06zM217.51,637.21h3.06v3.06h-3.06zM220.57,637.21h3.06v3.06h-3.06zM223.64,637.21h3.06v3.06h-3.06zM226.70,637.21h3.06v3.06h-3.06zM211.38,640.27h3.06v3.06h-3.06zM214.44,640.27h3.06v3.06h-3.06zM217.51,640.27h3.06v3.06h-3.06zM220.57,640.27h3.06v3.06h-3.06zM223.64,640.27h3.06v3.06h-3.06zM211.38,643.33h3.06v3.06h-3.06zM214.44,643.33h3.06v3.06h-3.06zM217.51,643.33h3.06v3.06h-3.06zM220.57,643.33h3.06v3.06h-3.06zM223.64,643.33h3.06v3.06h-3.06zM217.51,646.40h3.06v3.06h-3.06z" fill="#FFFF00"/><rect x="211.38" y="628.02" width="3.06" height="3.06" fill="#FFFF00" fill-opacity="0.36"/><rect x="214.44" y="628.02" width="3.06" height="3.06" fill="#FFFF00" fill-opacity="0.84"/><rect x="220.57" y="628.02" width="3.06" height="3.06" fill="#FFFF00" fill-opacity="0.84"/><rect x="223.64" y="628.02" width="3.06" height="3.06" fill="#FFFF00" fill-opacity="0.36"/><rect x="208.32" y="631.08" width="3.06" height="3.06" fill="#FFFF00" fill-opacity="0.36"/><rect x="226.70" y="631.08" width="3.06" height="3.06" fill="#FFFF00" fill-opacity="0.36"/><rect x="208.32" y="634.14" width="3.06" height="3.06" fill="#FFFF00" fill-opacity="0.84"/><rect x="226.70" y="634.14" width="3.06" height="3.06" fill="#FFFF00" fill-opacity="0.84"/><rect x="208.32" y="640.27" width="3.06" height="3.06" fill="#FFFF00" fill-opacity="0.84"/><rect x="226.70" y="640.27" width="3.06" height="3.06" fill="#FFFF00" fill-opacity="0.84"/><rect x="208.32" y="643.33" width="3.06" height="3.06" fill="#FFFF00" fill-opacity="0.36"/><rect x="226.70" y="643.33" width="3.06" height="3.06" fill="#FFFF00" fill-opacity="0.36"/><rect x="211.38" y="646.40" width="3.06" height="3.06" fill="#FFFF00" fill-opacity="0.36"/><rect x="214.44" y="646.40" width="3.06" height="3.06" fill="#FFFF00" fill-opacity="0.84"/><rect x="220.57" y="646.40" width="3.06" height="3.06" fill="#FFFF00" fill-opacity="0.84"/><rect x="223.64" y="646.40" width="3.06" height="3.06" fill="#FFFF00" fill-opacity="0.36"/></g><g shape-rendering="crispEdges"><path d="M701.54,603.51h3.06v3.06h-3.06zM695.41,606.57h3.06v3.06h-3.06zM698.48,606.57h3.06v3.06h-3.06zM701.54,606.57h3.06v3.06h-3.06zM704.61,606.57h3.06v3.06h-3.06zM707.67,606.57h3.06v3.06h-3.06zM695.41,609.64h3.06v3.06h-3.06zM698.48,609.64h3.06v3.06h-3.06zM701.54,609.64h3.06v3.06h-3.06zM704.61,609.64h3.06v3.06h-3.06zM707.67,609.64h3.06v3.06h-3.06zM692.35,612.70h3.06v3.06h-3.06zM695.41,612.70h3.06v3.06h-3.06zM698.48,612.70h3.06v3.06h-3.06zM701.54,612.70h3.06v3.06h-3.06zM704.61,612.70h3.06v3.06h-3.06zM707.67,612.70h3.06v3.06h-3.06zM710.73,612.70h3.06v3.06h-3.06zM695.41,615.76h3.06v3.06h-3.06zM698.48,615.76h3.06v3.06h-3.06zM701.54,615.76h3.06v3.06h-3.06zM704.61,615.76h3.06v3.06h-3.06zM707.67,615.76h3.06v3.06h-3.06zM695.41,618.83h3.06v3.06h-3.06zM698.48,618.83h3.06v3.06h-3.06zM701.54,618.83h3.06v3.06h-3.06zM704.61,618.83h3.06v3.06h-3.06zM707.67,618.83h3.06v3.06h-3.06zM701.54,621.89h3.06v3.06h-3.06z" fill="#FFFF00"/><rect x="695.41" y="603.51" width="3.06" height="3.06" fill="#FFFF00" fill-opacity="0.36"/><rect x="698.48" y="603.51" width="3.06" height="3.06" fill="#FFFF00" fill-opacity="0.84"/><rect x="704.61" y="603.51" width="3.06" height="3.06" fill="#FFFF00" fill-opacity="0.84"/><rect x="707.67" y="603.51" width="3.06" height="3.06" fill="#FFFF00" fill-opacity="0.36"/><rect x="692.35" y="606.57" width="3.06" height="3.06" fill="#FFFF00" fill-opacity="0.36"/><rect x="710.73" y="606.57" width="3.06" height="3.06" fill="#FFFF00" fill-opacity="0.36"/><rect x="692.35" y="609.64" width="3.06" height="3.06" fill="#FFFF00" fill-opacity="0.84"/><rect x="710.73" y="609.64" width="3.06" height="3.06" fill="#FFFF00" fill-opacity="0.84"/><rect x="692.35" y="615.76" width="3.06" height="3.06" fill="#FFFF00" fill-opacity="0.84"/><rect x="710.73" y="615.76" width="3.06" height="3.06" fill="#FFFF00" fill-opacity="0.84"/><rect x="692.35" y="618.83" width="3.06" height="3.06" fill="#FFFF00" fill-opacity="0.36"/><rect x="710.73" y="618.83" width="3.06" height="3.06" fill="#FFFF00" fill-opacity="0.36"/><rect x="695.41" y="621.89" width="3.06" height="3.06" fill="#FFFF00" fill-opacity="0.36"/><rect x="698.48" y="621.89" width="3.06" height="3.06" fill="#FFFF00" fill-opacity="0.84"/><rect x="704.61" y="621.89" width="3.06" height="3.06" fill="#FFFF00" fill-opacity="0.84"/><rect x="707.67" y="621.89" width="3.06" height="3.06" fill="#FFFF00" fill-opacity="0.36"/></g><g shape-rendering="crispEdges"><path d="M1191.70,450.33h3.06v3.06h-3.06zM1185.57,453.40h3.06v3.06h-3.06zM1188.64,453.40h3.06v3.06h-3.06zM1191.70,453.40h3.06v3.06h-3.06zM1194.76,453.40h3.06v3.06h-3.06zM1197.83,453.40h3.06v3.06h-3.06zM1185.57,456.46h3.06v3.06h-3.06zM1188.64,456.46h3.06v3.06h-3.06zM1191.70,456.46h3.06v3.06h-3.06zM1194.76,456.46h3.06v3.06h-3.06zM1197.83,456.46h3.06v3.06h-3.06zM1182.51,459.52h3.06v3.06h-3.06zM1185.57,459.52h3.06v3.06h-3.06zM1188.64,459.52h3.06v3.06h-3.06zM1191.70,459.52h3.06v3.06h-3.06zM1194.76,459.52h3.06v3.06h-3.06zM1197.83,459.52h3.06v3.06h-3.06zM1200.89,459.52h3.06v3.06h-3.06zM1185.57,462.59h3.06v3.06h-3.06zM1188.64,462.59h3.06v3.06h-3.06zM1191.70,462.59h3.06v3.06h-3.06zM1194.76,462.59h3.06v3.06h-3.06zM1197.83,462.59h3.06v3.06h-3.06zM1185.57,465.65h3.06v3.06h-3.06zM1188.64,465.65h3.06v3.06h-3.06zM1191.70,465.65h3.06v3.06h-3.06zM1194.76,465.65h3.06v3.06h-3.06zM1197.83,465.65h3.06v3.06h-3.06zM1191.70,468.72h3.06v3.06h-3.06z" fill="#FFFF00"/><rect x="1185.57" y="450.33" width="3.06" height="3.06" fill="#FFFF00" fill-opacity="0.36"/><rect x="1188.64" y="450.33" width="3.06" height="3.06" fill="#FFFF00" fill-opacity="0.84"/><rect x="1194.76" y="450.33" width="3.06" height="3.06" fill="#FFFF00" fill-opacity="0.84"/><rect x="1197.83" y="450.33" width="3.06" height="3.06" fill="#FFFF00" fill-opacity="0.36"/><rect x="1182.51" y="453.40" width="3.06" height="3.06" fill="#FFFF00" fill-opacity="0.36"/><rect x="1200.89" y="453.40" width="3.06" height="3.06" fill="#FFFF00" fill-opacity="0.36"/><rect x="1182.51" y="456.46" width="3.06" height="3.06" fill="#FFFF00" fill-opacity="0.84"/><rect x="1200.89" y="456.46" width="3.06" height="3.06" fill="#FFFF00" fill-opacity="0.84"/><rect x="1182.51" y="462.59" width="3.06" height="3.06" fill="#FFFF00" fill-opacity="0.84"/><rect x="1200.89" y="462.59" width="3.06" height="3.06" fill="#FFFF00" fill-opacity="0.84"/><rect x="1182.51" y="465.65" width="3.06" height="3.06" fill="#FFFF00" fill-opacity="0.36"/><rect x="1200.89" y="465.65" width="3.06" height="3.06" fill="#FFFF00" fill-opacity="0.36"/><rect x="1185.57" y="468.72" width="3.06" height="3.06" fill="#FFFF00" fill-opacity="0.36"/><rect x="1188.64" y="468.72" width="3.06" height="3.06" fill="#FFFF00" fill-opacity="0.84"/><rect x="1194.76" y="468.72" width="3.06" height="3.06" fill="#FFFF00" fill-opacity="0.84"/><rect x="1197.83" y="468.72" width="3.06" height="3.06" fill="#FFFF00" fill-opacity="0.36"/></g><g shape-rendering="crispEdges"><path d="M1433.72,287.97h3.06v3.06h-3.06zM1427.59,291.03h3.06v3.06h-3.06zM1430.65,291.03h3.06v3.06h-3.06zM1433.72,291.03h3.06v3.06h-3.06zM1436.78,291.03h3.06v3.06h-3.06zM1439.85,291.03h3.06v3.06h-3.06zM1427.59,294.10h3.06v3.06h-3.06zM1430.65,294.10h3.06v3.06h-3.06zM1433.72,294.10h3.06v3.06h-3.06zM1436.78,294.10h3.06v3.06h-3.06zM1439.85,294.10h3.06v3.06h-3.06zM1424.53,297.16h3.06v3.06h-3.06zM1427.59,297.16h3.06v3.06h-3.06zM1430.65,297.16h3.06v3.06h-3.06zM1433.72,297.16h3.06v3.06h-3.06zM1436.78,297.16h3.06v3.06h-3.06zM1439.85,297.16h3.06v3.06h-3.06zM1442.91,297.16h3.06v3.06h-3.06zM1427.59,300.22h3.06v3.06h-3.06zM1430.65,300.22h3.06v3.06h-3.06zM1433.72,300.22h3.06v3.06h-3.06zM1436.78,300.22h3.06v3.06h-3.06zM1439.85,300.22h3.06v3.06h-3.06zM1427.59,303.29h3.06v3.06h-3.06zM1430.65,303.29h3.06v3.06h-3.06zM1433.72,303.29h3.06v3.06h-3.06zM1436.78,303.29h3.06v3.06h-3.06zM1439.85,303.29h3.06v3.06h-3.06zM1433.72,306.35h3.06v3.06h-3.06z" fill="#FFFF00"/><rect x="1427.59" y="287.97" width="3.06" height="3.06" fill="#FFFF00" fill-opacity="0.36"/><rect x="1430.65" y="287.97" width="3.06" height="3.06" fill="#FFFF00" fill-opacity="0.84"/><rect x="1436.78" y="287.97" width="3.06" height="3.06" fill="#FFFF00" fill-opacity="0.84"/><rect x="1439.85" y="287.97" width="3.06" height="3.06" fill="#FFFF00" fill-opacity="0.36"/><rect x="1424.53" y="291.03" width="3.06" height="3.06" fill="#FFFF00" fill-opacity="0.36"/><rect x="1442.91" y="291.03" width="3.06" height="3.06" fill="#FFFF00" fill-opacity="0.36"/><rect x="1424.53" y="294.10" width="3.06" height="3.06" fill="#FFFF00" fill-opacity="0.84"/><rect x="1442.91" y="294.10" width="3.06" height="3.06" fill="#FFFF00" fill-opacity="0.84"/><rect x="1424.53" y="300.22" width="3.06" height="3.06" fill="#FFFF00" fill-opacity="0.84"/><rect x="1442.91" y="300.22" width="3.06" height="3.06" fill="#FFFF00" fill-opacity="0.84"/><rect x="1424.53" y="303.29" width="3.06" height="3.06" fill="#FFFF00" fill-opacity="0.36"/><rect x="1442.91" y="303.29" width="3.06" height="3.06" fill="#FFFF00" fill-opacity="0.36"/><rect x="1427.59" y="306.35" width="3.06" height="3.06" fill="#FFFF00" fill-opacity="0.36"/><rect x="1430.65" y="306.35" width="3.06" height="3.06" fill="#FFFF00" fill-opacity="0.84"/><rect x="1436.78" y="306.35" width="3.06" height="3.06" fill="#FFFF00" fill-opacity="0.84"/><rect x="1439.85" y="306.35" width="3.06" height="3.06" fill="#FFFF00" fill-opacity="0.36"/></g>
<text x="110.6" y="50.7" font-size="37.5" textLength="72.9" lengthAdjust="spacingAndGlyphs">5.50</text>
<text x="110.6" y="147.8" font-size="37.5" textLength="72.9" lengthAdjust="spacingAndGlyphs">5.00</text>
<text x="111.7" y="244.9" font-size="37.5" textLength="71.7" lengthAdjust="spacingAndGlyphs">4.50</text>
<text x="111.7" y="342.0" font-size="37.5" textLength="71.7" lengthAdjust="spacingAndGlyphs">4.00</text>
<text x="110.7" y="439.1" font-size="37.5" textLength="72.7" lengthAdjust="spacingAndGlyphs">3.50</text>
<text x="110.7" y="536.2" font-size="37.5" textLength="72.7" lengthAdjust="spacingAndGlyphs">3.00</text>
<text x="110.5" y="633.3" font-size="37.5" textLength="72.9" lengthAdjust="spacingAndGlyphs">2.50</text>
<text x="110.5" y="730.4" font-size="37.5" textLength="72.9" lengthAdjust="spacingAndGlyphs">2.00</text>
<text x="108.9" y="827.5" font-size="37.5" textLength="74.6" lengthAdjust="spacingAndGlyphs">1.50</text>
<text x="206.0" y="874" font-size="37.5" textLength="21.5" lengthAdjust="spacingAndGlyphs">0</text>
<text x="450.1" y="874" font-size="37.5" textLength="21.0" lengthAdjust="spacingAndGlyphs">5</text>
<text x="680.9" y="874" font-size="37.5" textLength="44.0" lengthAdjust="spacingAndGlyphs">10</text>
<text x="924.6" y="874" font-size="37.5" textLength="43.5" lengthAdjust="spacingAndGlyphs">15</text>
<text x="1168.4" y="874" font-size="37.5" textLength="43.0" lengthAdjust="spacingAndGlyphs">20</text>
<text x="1412.1" y="874" font-size="37.5" textLength="42.8" lengthAdjust="spacingAndGlyphs">25</text>
<text x="556.4" y="941.7" font-size="37.5" textLength="60.4" lengthAdjust="spacingAndGlyphs">LSP</text>
<text x="626.5" y="941.7" font-size="37.5" textLength="184.3" lengthAdjust="spacingAndGlyphs">Percentage</text>
<text x="823.3" y="941.7" font-size="37.5" textLength="217.6" lengthAdjust="spacingAndGlyphs">Replacement</text>
<text x="1053.3" y="941.7" font-size="37.5" textLength="65.7" lengthAdjust="spacingAndGlyphs">(%)</text>
<g transform="translate(68.3,0) rotate(-90)"><text x="-711.5" y="0" font-size="37" textLength="220.0" lengthAdjust="spacingAndGlyphs">Compressive</text><text x="-486.3" y="0" font-size="37" textLength="141.4" lengthAdjust="spacingAndGlyphs">Strength</text><text x="-331.6" y="0" font-size="37" textLength="75.5" lengthAdjust="spacingAndGlyphs">Loss</text><text x="-250.7" y="0" font-size="37" textLength="103.5" lengthAdjust="spacingAndGlyphs">(MPa)</text></g>
<rect x="1459.8" y="38.1" width="380.3" height="269" fill="#CFC3DD" stroke="#002060" stroke-width="3.6" stroke-linejoin="round"/>
<line x1="1479" y1="73.6" x2="1556" y2="73.6" stroke="#4F81BD" stroke-width="6.5" stroke-linecap="round"/>
<rect x="1507.0" y="60.9" width="21.9" height="21.9" fill="#00B050"/>
<text x="1565.4" y="83.2" font-size="37" textLength="61.0" lengthAdjust="spacingAndGlyphs">HCI</text>
<text x="1632.2" y="83.2" font-size="37" textLength="43.0" lengthAdjust="spacingAndGlyphs">28</text>
<text x="1684.8" y="83.2" font-size="37" textLength="65.1" lengthAdjust="spacingAndGlyphs">Day</text>
<line x1="1479" y1="140.9" x2="1556" y2="140.9" stroke="#9BBB59" stroke-width="6.5" stroke-linecap="round"/>
<polygon points="1516.2,128.2 1525.6,137.6 1516.2,147.0 1506.8,137.6" fill="#002060"/>
<text x="1565.4" y="150.5" font-size="37" textLength="61.0" lengthAdjust="spacingAndGlyphs">HCI</text>
<text x="1632.3" y="150.5" font-size="37" textLength="42.8" lengthAdjust="spacingAndGlyphs">56</text>
<text x="1684.8" y="150.5" font-size="37" textLength="65.1" lengthAdjust="spacingAndGlyphs">Day</text>
<line x1="1479" y1="208.3" x2="1556" y2="208.3" stroke="#4BACC6" stroke-width="6.5" stroke-linecap="round"/>
<polygon points="1516.3,196 1525.7,214.9 1506.9,214.9" fill="#FF0000"/>
<text x="1565.1" y="217.9" font-size="37" textLength="131.5" lengthAdjust="spacingAndGlyphs">Na2SO4</text>
<text x="1705.8" y="217.9" font-size="37" textLength="43.3" lengthAdjust="spacingAndGlyphs">28</text>
<text x="1758.5" y="217.9" font-size="37" textLength="65.0" lengthAdjust="spacingAndGlyphs">Day</text>
<line x1="1479" y1="275.6" x2="1556" y2="275.6" stroke="#2B4B77" stroke-width="6.5" stroke-linecap="round"/>
<circle cx="1517.7" cy="274.2" r="10.9" fill="#FFFF00"/>
<text x="1565.1" y="285.2" font-size="37" textLength="131.5" lengthAdjust="spacingAndGlyphs">Na2SO4</text>
<text x="1705.9" y="285.2" font-size="37" textLength="43.0" lengthAdjust="spacingAndGlyphs">56</text>
<text x="1758.5" y="285.2" font-size="37" textLength="65.0" lengthAdjust="spacingAndGlyphs">Day</text>
<rect x="1.75" y="1.75" width="1853.5" height="986.5" fill="none" stroke="#002060" stroke-width="3.5"/>
</svg></body></html>
